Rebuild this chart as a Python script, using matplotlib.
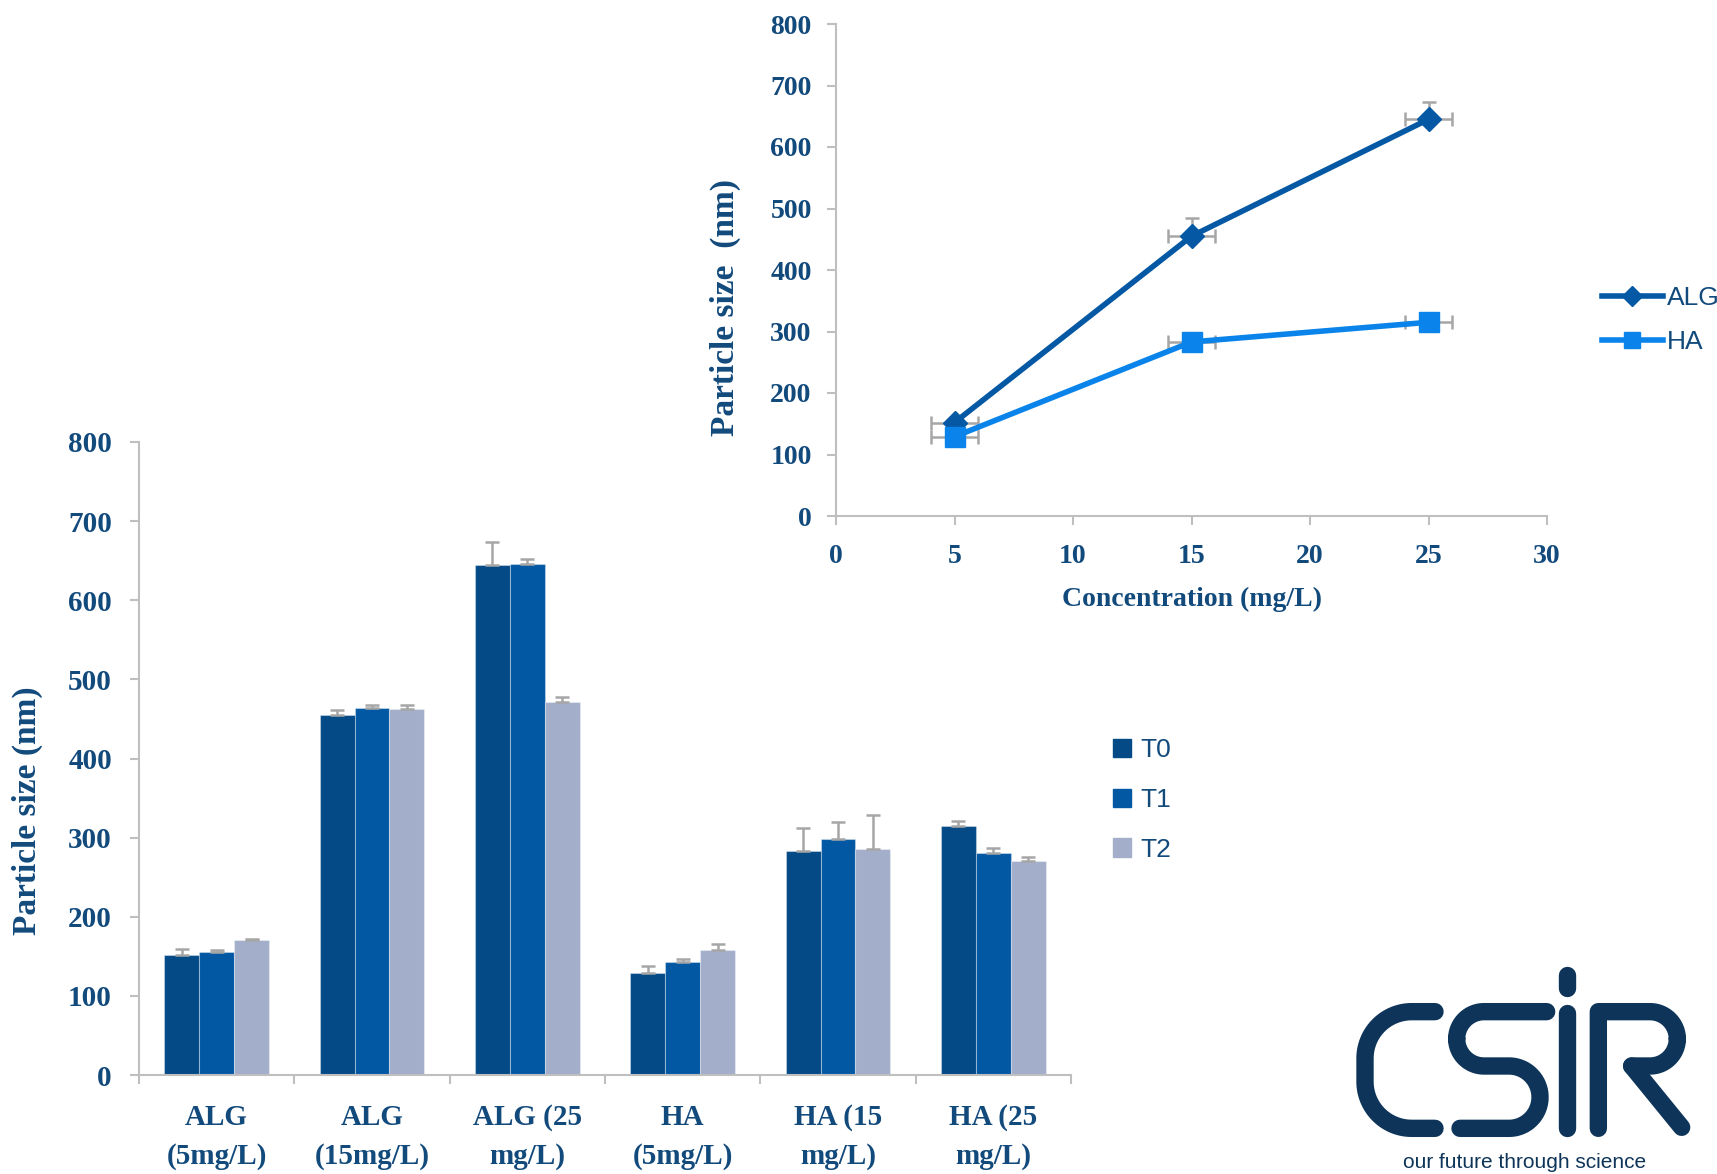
import numpy as np
import matplotlib
matplotlib.use("Agg")
import matplotlib.pyplot as plt
from matplotlib.lines import Line2D
from matplotlib.patches import Patch

# particle size per sample and time point (nm)
samples = ["ALG\n(5mg/L)", "ALG\n(15mg/L)", "ALG (25\nmg/L)",
           "HA\n(5mg/L)", "HA (15\nmg/L)", "HA (25\nmg/L)"]
t0 = [152, 455, 644, 129, 283, 315]
t1 = [155, 464, 646, 143, 298, 281]
t2 = [170, 463, 471, 158, 286, 270]
t0_err = [7, 6, 30, 9, 29, 6]
t1_err = [3, 4, 6, 3, 22, 6]
t2_err = [2, 4, 7, 7, 43, 6]

# size against concentration
conc = [5, 15, 25]
alg_size = [152, 455, 645]
ha_size = [129, 283, 315]
alg_yerr = [0, 30, 28]
ha_yerr = [0, 0, 0]
conc_err = [1, 1, 1]

W, H = 1717, 1174
TXT = "#124A7C"
GRID = "#BFBFBF"
ERR = "#A6A6A6"
SERIF = "Liberation Serif"

fig = plt.figure(figsize=(W / 100, H / 100), dpi=100)


def px_axes(x0, x1, ytop, ybot):
    return fig.add_axes([x0 / W, 1 - ybot / H, (x1 - x0) / W, (ybot - ytop) / H])


def style(ax, size):
    for s in ["top", "right"]:
        ax.spines[s].set_visible(False)
    for s in ["left", "bottom"]:
        ax.spines[s].set_color(GRID)
        ax.spines[s].set_linewidth(1.5)
    ax.tick_params(which="both", color=GRID, width=1.5, length=6.5,
                   labelcolor=TXT, labelsize=size)
    for lab in ax.get_xticklabels() + ax.get_yticklabels():
        lab.set_fontfamily(SERIF)
        lab.set_fontweight("bold")


# ---- grouped bars ----
ax = px_axes(139, 1071, 442, 1075)
x = np.arange(len(samples))
w = 0.225
cols = ["#034A87", "#0358A3", "#A3AECB"]
for i, (vals, err, c, name) in enumerate(zip([t0, t1, t2], [t0_err, t1_err, t2_err],
                                             cols, ["T0", "T1", "T2"])):
    ax.bar(x + (i - 1) * w, vals, w, color=c, edgecolor=(1, 1, 1, 0.35),
           linewidth=0.8, label=name, zorder=2)
    ax.errorbar(x + (i - 1) * w, vals, yerr=[np.zeros(len(err)), err], fmt="none",
                ecolor=ERR, elinewidth=1.8, capsize=5, capthick=1.8, zorder=3)
ax.set_xlim(-0.5, 5.5)
ax.set_ylim(0, 800)
ax.set_yticks(range(0, 801, 100))
ax.set_xticks(x)
ax.set_xticklabels(samples, linespacing=1.55)
ax.set_xticks(np.arange(-0.5, 6, 1), minor=True)
style(ax, 21)
ax.tick_params(axis="x", which="major", length=0, pad=21)
ax.tick_params(axis="y", pad=13)
ax.set_ylabel("Particle size (nm)", fontsize=24, fontfamily=SERIF,
              fontweight="bold", color=TXT, va="center")
ax.yaxis.set_label_coords(-112 / 932, 0.417)

bar_handles = [Patch(color=c) for c in cols]
fig.legend(bar_handles, ["T0", "T1", "T2"], loc="center left",
           bbox_to_anchor=(1113 / W, 1 - 800 / H), frameon=False,
           prop={"family": "Liberation Sans", "size": 19}, labelcolor=TXT,
           handlelength=0.7, handleheight=0.7, handletextpad=0.35,
           labelspacing=0.98, borderpad=0, borderaxespad=0)

# ---- size vs concentration ----
ax2 = px_axes(836, 1547, 24, 516)
ax2.errorbar(conc, alg_size, xerr=conc_err, yerr=[np.zeros(3), alg_yerr], fmt="none",
             ecolor=ERR, elinewidth=1.8, capsize=5, capthick=1.8, zorder=2)
ax2.errorbar(conc, ha_size, xerr=conc_err, yerr=[np.zeros(3), ha_yerr], fmt="none",
             ecolor=ERR, elinewidth=1.8, capsize=5, capthick=1.8, zorder=2)
ax2.plot(conc, alg_size, color="#0458A4", lw=4, marker="D", ms=12, zorder=3)
ax2.plot(conc, ha_size, color="#0A84EA", lw=4, marker="s", ms=14, zorder=4)
ax2.set_xlim(0, 30)
ax2.set_ylim(0, 800)
ax2.set_xticks(range(0, 31, 5))
ax2.set_yticks(range(0, 801, 100))
style(ax2, 20)
ax2.tick_params(axis="x", pad=14)
ax2.tick_params(axis="y", pad=11)
ax2.set_xlabel("Concentration (mg/L)", fontsize=20, fontfamily=SERIF,
               fontweight="bold", color=TXT, va="center")
ax2.xaxis.set_label_coords(0.5, -83 / 492)
ax2.set_ylabel("Particle size  (nm)", fontsize=24, fontfamily=SERIF,
               fontweight="bold", color=TXT, va="center")
ax2.yaxis.set_label_coords(-111 / 711, 0.423)

line_handles = [Line2D([], [], color="#0458A4", lw=4, marker="D", ms=10),
                Line2D([], [], color="#0A84EA", lw=4, marker="s", ms=12)]
fig.legend(line_handles, ["ALG", "HA"], loc="center left",
           bbox_to_anchor=(1602 / W, 1 - 320 / H), frameon=False,
           prop={"family": "Liberation Sans", "size": 19}, labelcolor=TXT,
           handlelength=2.3, handletextpad=0.15, labelspacing=0.75,
           borderpad=0, borderaxespad=0)

# ---- CSIR logo, drawn with round-capped strokes ----
logo = fig.add_axes([0, 0, 1, 1], zorder=-1)
logo.set_xlim(0, W)
logo.set_ylim(H, 0)
logo.axis("off")
NAVY = "#0E3559"


def arc(cx, cy, r, a0, a1, n=30):
    t = np.radians(np.linspace(a0, a1, n))
    return np.column_stack([cx + r * np.cos(t), cy + r * np.sin(t)])


def stroke(pts):
    pts = np.asarray(pts)
    logo.plot(pts[:, 0], pts[:, 1], color=NAVY, lw=12.5,
              solid_capstyle="round", solid_joinstyle="round")


def lz(zx, zy):
    return 1350 + zx / 3, 960 + zy / 3


# letter geometry measured on a 3x grid, then mapped into the figure
r = 140
c_pts = np.vstack([[lz(255, 155)],
                   [lz(*p) for p in arc(45 + r, 155 + r, r, 270, 180)],
                   [lz(*p) for p in arc(45 + r, 505 - r, r, 180, 90)],
                   [lz(255, 505)]])
stroke(c_pts)

rs = 82
s_pts = np.vstack([[lz(590, 155)],
                   [lz(*p) for p in arc(320 + rs, 155 + rs, rs, 270, 180)],
                   [lz(*p) for p in arc(320 + rs, 318 - rs, rs, 180, 90)],
                   [lz(*p) for p in arc(570 - 93, 318 + 93, 93, 270, 360)],
                   [lz(*p) for p in arc(570 - 93, 505 - 93, 93, 0, 90)],
                   [lz(330, 505)]])
stroke(s_pts)

stroke([lz(650, 45), lz(650, 85)])
stroke([lz(650, 158), lz(650, 505)])

rb = 82
r_pts = np.vstack([[lz(745, 505)], [lz(745, 155)],
                   [lz(*p) for p in arc(900, 155 + rb, rb, 270, 360)],
                   [lz(*p) for p in arc(900, 318 - rb, rb, 0, 90)],
                   [lz(845, 318)]])
stroke(r_pts)
stroke([lz(845, 318), lz(995, 502)])

fig.text(1525 / W, 2 / H, "our future through science", ha="center",
         va="bottom", fontsize=15, color=NAVY, family="Liberation Sans")

fig.savefig("out.png", dpi=100)
